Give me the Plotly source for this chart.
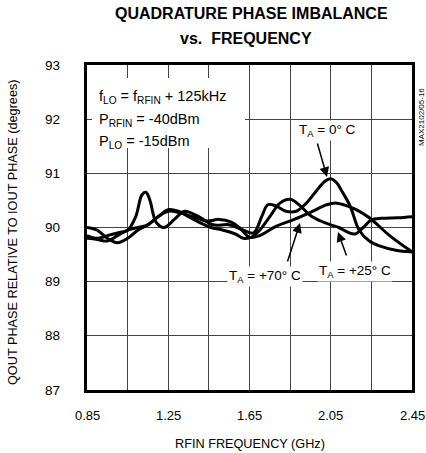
import plotly.graph_objects as go

# ---- data ----
freq_0c = [0.85, 0.90, 0.95, 1.00, 1.05, 1.09, 1.12, 1.14, 1.16, 1.19, 1.23, 1.28, 1.33, 1.40, 1.47,
           1.55, 1.62, 1.67, 1.71, 1.74, 1.78, 1.83, 1.88, 1.93, 1.98, 2.02, 2.05, 2.08, 2.10, 2.145,
           2.19, 2.24, 2.29, 2.37, 2.45]
phase_0c = [89.85, 89.80, 89.85, 89.90, 89.95, 90.20, 90.60, 90.65, 90.50, 90.10, 90.00, 90.15, 90.30,
            90.20, 90.05, 90.05, 89.95, 89.90, 90.20, 90.42, 90.40, 90.30, 90.30, 90.45, 90.68, 90.85,
            90.90, 90.82, 90.70, 90.40, 89.95, 89.75, 89.66, 89.58, 89.55]

freq_25c = [0.85, 0.90, 0.95, 1.00, 1.05, 1.10, 1.15, 1.20, 1.25, 1.30, 1.35, 1.40, 1.46, 1.52, 1.58,
            1.62, 1.66, 1.70, 1.75, 1.80, 1.85, 1.90, 1.95, 2.00, 2.05, 2.09, 2.13, 2.17, 2.21, 2.25,
            2.30, 2.38, 2.45]
phase_25c = [90.00, 89.95, 89.80, 89.72, 89.80, 89.95, 90.05, 90.20, 90.33, 90.30, 90.20, 90.10, 90.00,
             89.95, 89.88, 89.80, 89.82, 89.95, 90.20, 90.45, 90.52, 90.40, 90.22, 90.12, 90.05, 90.00,
             89.92, 89.88, 90.00, 90.14, 90.17, 90.18, 90.20]

freq_70c = [0.85, 0.90, 0.95, 1.00, 1.05, 1.10, 1.15, 1.20, 1.25, 1.30, 1.37, 1.44, 1.50, 1.56, 1.60,
            1.65, 1.70, 1.78, 1.87, 1.95, 2.03, 2.08, 2.13, 2.18, 2.24, 2.34, 2.45]
phase_70c = [89.80, 89.78, 89.75, 89.85, 89.95, 90.00, 90.05, 90.20, 90.30, 90.28, 90.20, 90.12, 90.15,
             90.10, 90.00, 89.82, 89.85, 90.02, 90.15, 90.28, 90.42, 90.45, 90.40, 90.32, 90.18, 89.85,
             89.55]

x_gridvals = [0.85, 1.05, 1.25, 1.45, 1.65, 1.85, 2.05, 2.25, 2.45]
x_labelvals = [0.85, 1.25, 1.65, 2.05, 2.45]
x_labeltext = ["0.85", "1.25", "1.65", "2.05", "2.45"]
y_tickvals = [87, 88, 89, 90, 91, 92, 93]

# ---- layout geometry (pixels) ----
W, H = 426, 453
L, R, T, B = 87, 412, 65, 390
PW, PH = R - L, B - T


def px(xp):
    return (xp - L) / PW


def py(yp):
    return (B - yp) / PH


FONT = "Liberation Sans, Arial, sans-serif"
fig = go.Figure()
for fx, fy in [(freq_0c, phase_0c), (freq_25c, phase_25c), (freq_70c, phase_70c)]:
    fig.add_trace(go.Scatter(x=fx, y=fy, mode="lines",
                             line=dict(color="black", width=3, shape="spline", smoothing=1.0),
                             showlegend=False, hoverinfo="skip"))

fig.update_layout(
    template="none",
    width=W, height=H, autosize=False,
    margin=dict(l=L, r=W - R, t=T, b=H - B, pad=0, autoexpand=False),
    paper_bgcolor="white", plot_bgcolor="white",
    font=dict(family=FONT, color="black", size=13),
    xaxis=dict(range=[0.85, 2.45], tickvals=x_gridvals, showticklabels=False, automargin=False,
               showgrid=True, gridcolor="#444", gridwidth=1, zeroline=False,
               showline=True, linecolor="black", linewidth=3, mirror=True, ticks=""),
    yaxis=dict(range=[87, 93], tickvals=y_tickvals, showticklabels=False, automargin=False,
               showgrid=True, gridcolor="#444", gridwidth=1, zeroline=False,
               showline=True, linecolor="black", linewidth=3, mirror=True, ticks=""),
)

# white box behind the conditions text
fig.add_shape(type="rect", xref="paper", yref="paper",
              x0=px(92), x1=px(245), y0=py(148), y1=py(78),
              fillcolor="white", line=dict(width=0), layer="above")

ann = []
# titles
ann.append(dict(text="<b>QUADRATURE PHASE IMBALANCE</b>", x=px(251), y=py(14), font=dict(size=16)))
ann.append(dict(text="<b>vs.  FREQUENCY</b>", x=px(246), y=py(39), font=dict(size=16)))
# axis titles
ann.append(dict(text="RFIN FREQUENCY (GHz)", x=px(250), y=py(444), font=dict(size=12.7)))
ann.append(dict(text="QOUT PHASE RELATIVE TO IOUT PHASE (degrees)", x=px(13), y=py(232),
                textangle=-90, font=dict(size=12.7)))
ann.append(dict(text="MAX2102/05-16", x=px(421), y=py(117), textangle=-90, font=dict(size=8)))
# conditions
ann.append(dict(text="f<sub>LO</sub> = f<sub>RFIN</sub> + 125kHz", x=px(97), y=py(97),
                xanchor="left", font=dict(size=14.5)))
ann.append(dict(text="P<sub>RFIN</sub> = -40dBm", x=px(97), y=py(120), xanchor="left", font=dict(size=14.5)))
ann.append(dict(text="P<sub>LO</sub> = -15dBm", x=px(97), y=py(142), xanchor="left", font=dict(size=14.5)))
for a in ann:
    a.setdefault("xanchor", "center")
    a.update(xref="paper", yref="paper", yanchor="middle", showarrow=False)

# tick labels placed at the axis values
for v in y_tickvals:
    ann.append(dict(text=str(v), x=px(62), y=v, xref="paper", yref="y", xanchor="right",
                    yanchor="middle", showarrow=False, font=dict(size=13.5)))
for v, t in zip(x_labelvals, x_labeltext):
    ann.append(dict(text=t, x=v, y=py(415), xref="x", yref="paper", xanchor="center",
                    yanchor="middle", showarrow=False, font=dict(size=13)))

# temperature labels
labels = [("T<sub>A</sub> = 0° C", 327, 130), ("T<sub>A</sub> = +70° C", 265, 276),
          ("T<sub>A</sub> = +25° C", 355, 271)]
for txt, lx, ly in labels:
    ann.append(dict(text=txt, x=px(lx), y=py(ly), xref="paper", yref="paper", showarrow=False,
                    bgcolor="white", font=dict(size=13.5), xanchor="center", yanchor="middle",
                    borderpad=1))

# arrows (tail -> tip), pixel coordinates
arrows = [((317, 142), (327, 177)), ((287, 263), (300, 223)), ((347, 257), (338, 232))]
for (tx, ty), (hx, hy) in arrows:
    ann.append(dict(text="", x=px(hx), y=py(hy), ax=px(tx), ay=py(ty),
                    xref="x domain", yref="y domain", axref="x domain", ayref="y domain",
                    showarrow=True, arrowhead=2, arrowsize=1.3,
                    arrowwidth=1.5, arrowcolor="black", standoff=0))

fig.update_layout(annotations=ann)
fig.write_html("out.html")
